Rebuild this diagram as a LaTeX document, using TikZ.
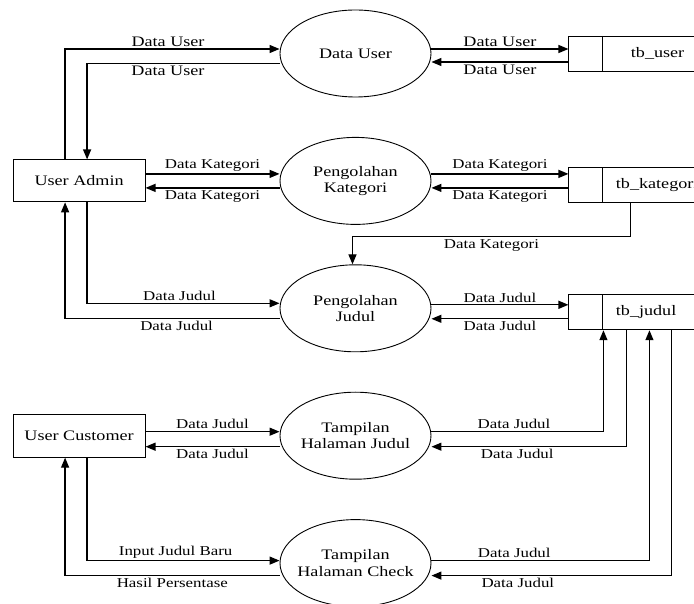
\documentclass[tikz,border=0pt]{standalone}
\usepackage{fontspec}
\setmainfont{Liberation Serif}[FakeStretch=1.25]
\usetikzlibrary{shapes.geometric, arrows.meta, positioning}

\begin{document}
\begin{tikzpicture}[
    node distance=39.5pt,
    proc/.style={ellipse, draw, line width=0.9pt, minimum width=151pt, minimum height=87pt,
                 inner sep=-12pt, align=center, font=\fontsize{14.5}{16.5}\selectfont},
    entity/.style={rectangle, draw, line width=0.9pt, minimum width=132pt, minimum height=42pt,
                   font=\fontsize{14.5}{16.5}\selectfont},
    store/.style={rectangle, draw, line width=0.9pt, minimum height=35pt, text width=160pt,
                  inner xsep=0pt, align=left, font=\fontsize{14.5}{16.5}\selectfont,
                  execute at begin node={\hspace*{#1}},
                  path picture={\draw[line width=0.9pt]
                      ([xshift=34pt]path picture bounding box.north west)
                      -- ([xshift=34pt]path picture bounding box.south west);}},
    store/.default=47pt,
    arrow/.style={-{Triangle[length=10pt, width=8pt]}, line width=1.3pt},
    lbl/.style={font=\fontsize{13.5}{15}\selectfont, inner sep=2pt},
    biglbl/.style={lbl, font=\fontsize{14.5}{16}\selectfont}
]
\useasboundingbox (-355.5pt,53.5pt) rectangle (338.5pt,-550.5pt);
\clip (-355.5pt,53.5pt) rectangle (338.5pt,-550.5pt);

% processes
\node[proc] (datauser) {Data User};
\node[proc, below=of datauser] (kategori) {Pengolahan\\Kategori};
\node[proc, below=of kategori] (judul) {Pengolahan\\Judul};
\node[proc, below=of judul] (tjudul) {Tampilan\\Halaman Judul};
\node[proc, below=of tjudul] (tcheck) {Tampilan\\Halaman Check};

% entities
\node[entity, left=134pt of kategori] (admin) {User Admin};
\node[entity, left=134pt of tjudul, minimum height=43pt] (customer) {User Customer};

% data stores
\node[store=62pt, right=137pt of datauser] (tbuser) {tb\_user};
\node[store, right=137pt of kategori, yshift=-4pt] (tbkat) {tb\_kategori};
\node[store, right=137pt of judul, yshift=-4pt] (tbjudul) {tb\_judul};

% user admin
\draw[arrow] ([xshift=-14pt]admin.north) |- ([yshift=4.5pt]datauser.west)
    node[biglbl, above, pos=0.74] {Data User};
\draw[arrow] ([yshift=-10pt]datauser.west) -| ([xshift=8pt]admin.north)
    node[biglbl, below, pos=0.29] {Data User};
\draw[arrow] ([yshift=7pt]admin.east) -- ([yshift=7pt]kategori.west)
    node[lbl, above, midway] {Data Kategori};
\draw[arrow] ([yshift=-7pt]kategori.west) -- ([yshift=-7pt]admin.east)
    node[lbl, below, midway] {Data Kategori};
\draw[arrow] ([xshift=8pt]admin.south) |- ([yshift=5pt]judul.west)
    node[lbl, above, pos=0.74] {Data Judul};
\draw[arrow] ([yshift=-10pt]judul.west) -| ([xshift=-14pt]admin.south)
    node[lbl, below, pos=0.24] {Data Judul};

% user customer
\draw[arrow] ([yshift=4pt]customer.east) -- ([yshift=4pt]tjudul.west)
    node[lbl, above, midway] {Data Judul};
\draw[arrow] ([yshift=-11pt]tjudul.west) -- ([yshift=-11pt]customer.east)
    node[lbl, below, midway] {Data Judul};
\draw[arrow] ([xshift=8pt]customer.south) |- ([yshift=2.5pt]tcheck.west)
    node[lbl, above, pos=0.73] {Input Judul Baru};
\draw[arrow] ([yshift=-12.5pt]tcheck.west) -| ([xshift=-14pt]customer.south)
    node[lbl, below, pos=0.25] {Hasil Persentase};

% stores
\draw[arrow] ([yshift=4.5pt]datauser.east) -- ([yshift=4.5pt]tbuser.west)
    node[biglbl, above, midway] {Data User};
\draw[arrow] ([yshift=-8.5pt]tbuser.west) -- ([yshift=-8.5pt]datauser.east)
    node[biglbl, below, midway] {Data User};
\draw[arrow] ([yshift=7pt]kategori.east) -- ([yshift=7pt]kategori.east -| tbkat.west)
    node[lbl, above, midway] {Data Kategori};
\draw[arrow] ([yshift=-7pt]kategori.east -| tbkat.west) -- ([yshift=-7pt]kategori.east)
    node[lbl, below, midway] {Data Kategori};
\draw[arrow] ([xshift=62pt]tbkat.south west) -- ++(0,-34pt) -| ([xshift=-3pt]judul.north)
    node[lbl, below, pos=0.25] {Data Kategori};
\draw[arrow] ([yshift=3.5pt]judul.east) -- ([yshift=3.5pt]judul.east -| tbjudul.west)
    node[lbl, above, midway] {Data Judul};
\draw[arrow] ([yshift=-10.5pt]judul.east -| tbjudul.west) -- ([yshift=-10.5pt]judul.east)
    node[lbl, below, midway] {Data Judul};
\draw[arrow] ([yshift=4pt]tjudul.east) -| ([xshift=35pt]tbjudul.south west)
    node[lbl, above, pos=0.24] {Data Judul};
\draw[arrow] ([xshift=58pt]tbjudul.south west) |- ([yshift=-11pt]tjudul.east)
    node[lbl, below, pos=0.78] {Data Judul};
\draw[arrow] ([yshift=2.5pt]tcheck.east) -| ([xshift=81pt]tbjudul.south west)
    node[lbl, above, pos=0.19] {Data Judul};
\draw[arrow] ([xshift=103pt]tbjudul.south west) |- ([yshift=-12.5pt]tcheck.east)
    node[lbl, below, pos=0.82] {Data Judul};
\end{tikzpicture}
\end{document}
